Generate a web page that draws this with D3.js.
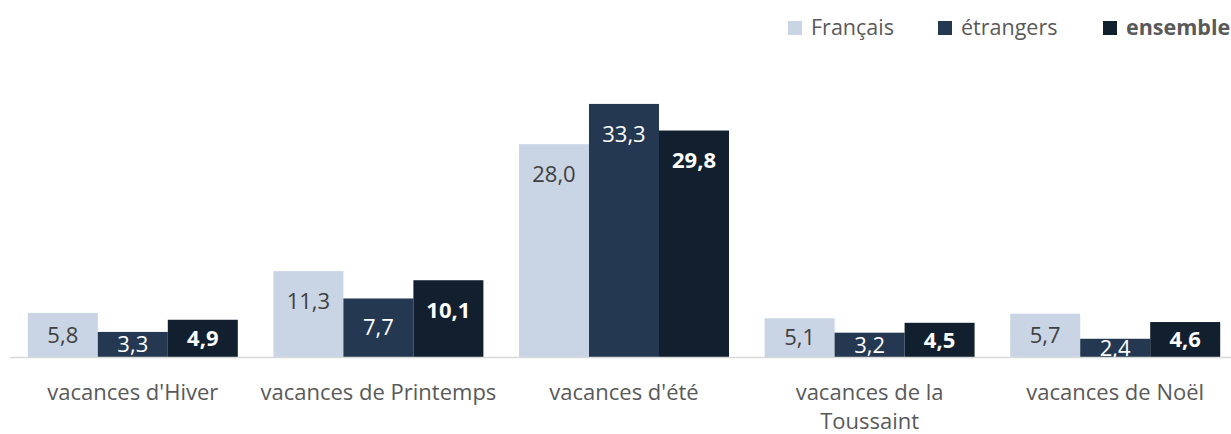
<!DOCTYPE html>
<html>
<head>
<meta charset="utf-8">
<script src="https://cdn.jsdelivr.net/npm/d3@7.9.0/dist/d3.min.js"></script>
<style>
  body { margin: 0; background: #fff; }
  svg { display: block; font-family: 'Open Sans', sans-serif; }
</style>
</head>
<body>
<svg id="chart" width="1231" height="434"></svg>
<script>
// Data
const categories = [
  ['vacances d\'Hiver'],
  ['vacances de Printemps'],
  ['vacances d\'été'],
  ['vacances de la', 'Toussaint'],
  ['vacances de Noël']
];
const seriesNames = ['Français', 'étrangers', 'ensemble'];
const francais = [5.8, 11.3, 28.0, 5.1, 5.7];
const etrangers = [3.3, 7.7, 33.3, 3.2, 2.4];
const ensemble = [4.9, 10.1, 29.8, 4.5, 4.6];

const colors = ['#c9d5e5', '#243852', '#121f2f'];
const labelColors = ['#404040', '#ffffff', '#ffffff'];
const labelWeights = ['normal', 'normal', 'bold'];

const values = [francais, etrangers, ensemble];
const rows = categories.map((c, i) => ({
  key: i,
  lines: c,
  vals: seriesNames.map((s, j) => ({ series: j, value: values[j][i] }))
}));

const svg = d3.select('#chart');
const baseline = 357;

const x0 = d3.scaleBand()
  .domain(rows.map(d => d.key))
  .range([10, 1238])
  .paddingInner(0.145)
  .paddingOuter(0.0725);

const x1 = d3.scaleBand()
  .domain(d3.range(seriesNames.length))
  .range([0, x0.bandwidth()]);

const y = d3.scaleLinear().domain([0, 35]).range([baseline, 91]);

svg.append('defs').append('clipPath').attr('id', 'plot')
  .append('rect').attr('x', 0).attr('y', 0).attr('width', 1231).attr('height', baseline);

// bars
const groups = svg.append('g').selectAll('g')
  .data(rows)
  .join('g')
  .attr('transform', d => `translate(${x0(d.key)},0)`);

groups.selectAll('rect')
  .data(d => d.vals)
  .join('rect')
  .attr('x', d => x1(d.series))
  .attr('y', d => y(d.value))
  .attr('width', x1.bandwidth())
  .attr('height', d => baseline - y(d.value))
  .attr('fill', d => colors[d.series]);

// axis line
svg.append('line')
  .attr('x1', 10).attr('x2', 1231)
  .attr('y1', baseline + 0.5).attr('y2', baseline + 0.5)
  .attr('stroke', '#d9d9d9')
  .attr('stroke-width', 1.5);

// value labels, inside end, clipped to plot area
const fmt = v => v.toFixed(1).replace('.', ',');
groups.append('g').attr('clip-path', 'url(#plot)')
  .selectAll('text')
  .data(d => d.vals)
  .join('text')
  .attr('x', d => x1(d.series) + x1.bandwidth() / 2)
  .attr('y', d => {
    const top = y(d.value);
    return Math.min(top + 30, (top + baseline) / 2);
  })
  .attr('dy', '0.35em')
  .attr('text-anchor', 'middle')
  .attr('font-size', 22)
  .attr('font-weight', d => labelWeights[d.series])
  .attr('fill', d => labelColors[d.series])
  .text(d => fmt(d.value));

// category labels
const catText = svg.append('g').selectAll('text')
  .data(rows)
  .join('text')
  .attr('x', d => x0(d.key) + x0.bandwidth() / 2)
  .attr('y', 400)
  .attr('text-anchor', 'middle')
  .attr('font-size', 22)
  .attr('fill', '#595959');

catText.selectAll('tspan')
  .data(d => d.lines)
  .join('tspan')
  .attr('x', function () { return d3.select(this.parentNode).attr('x'); })
  .attr('dy', (d, i) => i === 0 ? 0 : 29)
  .text(d => d);

// legend
const legendX = [788, 938, 1103];
const legend = svg.append('g').selectAll('g')
  .data(seriesNames)
  .join('g')
  .attr('transform', (d, i) => `translate(${legendX[i]},21)`);

legend.append('rect')
  .attr('width', 14).attr('height', 14)
  .attr('fill', (d, i) => colors[i]);

legend.append('text')
  .attr('x', 23).attr('y', 14)
  .attr('font-size', 21.5)
  .attr('font-weight', (d, i) => labelWeights[i])
  .attr('fill', '#595959')
  .text(d => d);
</script>
</body>
</html>
